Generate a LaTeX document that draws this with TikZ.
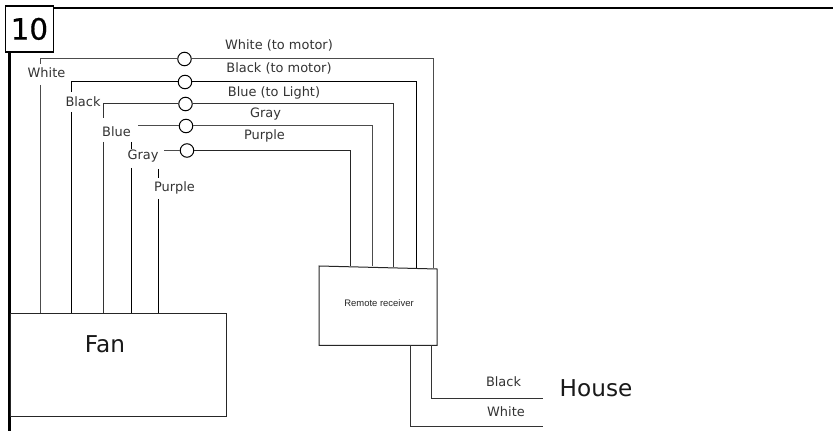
\documentclass[tikz,border=0pt]{standalone}
\usepackage{fontspec}
\setmainfont{DejaVu Sans}
\newfontfamily\arialf{Liberation Sans}
\begin{document}
\begin{tikzpicture}[x=0.75pt,y=-0.75pt,
  frameline/.style={line width=1.6pt,black},
  wire/.style={line width=0.75pt,draw=#1},
  wire/.default=black,
  sw/.style={circle,draw=black,fill=white,line width=0.75pt,minimum size=13.5*0.75pt,inner sep=0pt},
  lab/.style={font=\fontsize{9.7pt}{11pt}\selectfont,text=black!80,inner sep=0pt},
  big/.style={font=\fontsize{17.4pt}{20pt}\selectfont,text=black!90,inner sep=0pt},
  box/.style={draw=black!85,line width=0.75pt}]
\useasboundingbox (0,0) rectangle (833,431);
\fill[white] (0,0) rectangle (833,431);
% frame
\coordinate (ftr) at (833,8);
\coordinate (fbl) at (9.5,431);
\node[draw=black,line width=1.4pt,fill=white,minimum width=48*0.75pt,minimum height=46*0.75pt,inner sep=0pt,anchor=north west,font=\fontsize{22pt}{24pt}\selectfont] (num) at (4.5,5) {\addfontfeature{FakeBold=0.6}10};
\draw[frameline] (num.north east |- ftr) -- (ftr);
\draw[frameline] (num.south west -| fbl) -- (fbl);
% boxes
\node[box,minimum width=216*0.75pt,minimum height=103.5*0.75pt,inner sep=0pt,anchor=north west] (fan) at (10,313) {};
\node[big] (fanl) at (105,344) {Fan};
\coordinate (r1) at (319,266);\coordinate (r2) at (437,269);\coordinate (r3) at (437,345.5);\coordinate (r4) at (319,345.5);
\draw[box] (r1) -- (r2) -- (r3) -- (r4) -- cycle;
\node[inner sep=0pt,font=\arialf\fontsize{7.1pt}{8pt}\selectfont,text=black!85] (rl) at (379,303) {Remote receiver};
% switches
\node[sw] (s1) at (184.5,59) {};
\node[sw] (s2) at (185,82) {};
\node[sw] (s3) at (185.5,104) {};
\node[sw] (s4) at (186,126) {};
\node[sw] (s5) at (187,150.5) {};
% white
\coordinate (w1) at (40.5,64);\coordinate (w1b) at (40.5,85);\coordinate (w1f) at (40.5,313);
\coordinate (w1r) at (433,59);\coordinate (w1e) at (433,268);
\draw[wire=black!70] (w1) -- (w1 |- s1) -- (s1);
\draw[wire=black!70] (w1b) -- (w1f);
\draw[wire=black!70] (s1) -- (w1r) -- (w1e);
% black
\coordinate (b1) at (71.5,92);\coordinate (b1b) at (71.5,112);\coordinate (b1f) at (71.5,313);
\coordinate (b1r) at (416.5,82);\coordinate (b1e) at (416.5,268);
\draw[wire] (b1) -- (b1 |- s2) -- (s2);
\draw[wire] (b1b) -- (b1f);
\draw[wire] (s2) -- (b1r) -- (b1e);
% blue
\coordinate (u1) at (103.5,118);\coordinate (u1b) at (103.5,142);\coordinate (u1f) at (103.5,313);
\coordinate (u1r) at (393.5,104);\coordinate (u1e) at (393.5,267);
\draw[wire=black!80] (u1) -- (u1 |- s3) -- (s3);
\draw[wire=black!80] (u1b) -- (u1f);
\draw[wire=black!80] (s3) -- (u1r) -- (u1e);
% gray
\coordinate (g0) at (138,126);\coordinate (g1) at (131.5,142);\coordinate (g1a) at (131.5,149);
\coordinate (g1b) at (131.5,168);\coordinate (g1f) at (131.5,313);
\coordinate (g1r) at (372.5,126);\coordinate (g1e) at (372.5,266);
\draw[wire=black!70] (g0) -- (s4);
\draw[wire] (g1) -- (g1a);
\draw[wire] (g1b) -- (g1f);
\draw[wire=black!70] (s4) -- (g1r) -- (g1e);
% purple
\coordinate (p0) at (164,150.5);\coordinate (p1) at (158,169);\coordinate (p1a) at (158,178);
\coordinate (p1b) at (158,199);\coordinate (p1f) at (158,313);
\coordinate (p1r) at (350.5,150.5);\coordinate (p1e) at (350.5,266);
\draw[wire=black!70] (p0) -- (s5);
\draw[wire] (p1) -- (p1a);
\draw[wire] (p1b) -- (p1f);
\draw[wire=black!85] (s5) -- (p1r) -- (p1e);
% house wires
\coordinate (h1) at (431,345.5);\coordinate (h1c) at (431,399);\coordinate (h1e) at (543,399);
\coordinate (h2) at (410,345.5);\coordinate (h2c) at (410,426);\coordinate (h2e) at (543,426);
\draw[wire=black!80] (h1) -- (h1c) -- (h1e);
\draw[wire=black!80] (h2) -- (h2c) -- (h2e);
% labels
\node[lab] (l1) at (279,45) {White (to motor)};
\node[lab] (l2) at (279,68.5) {Black (to motor)};
\node[lab] (l3) at (274,92.5) {Blue (to Light)};
\node[lab] (l4) at (265.5,114) {Gray};
\node[lab] (l5) at (264.5,135.5) {Purple};
\node[lab] (l6) at (46.5,72.5) {White};
\node[lab] (l7) at (83,101.5) {Black};
\node[lab] (l8) at (116.5,131.5) {Blue};
\node[lab] (l9) at (143,156.5) {Gray};
\node[lab] (l10) at (174.5,187.5) {Purple};
\node[lab] (l11) at (503.5,382) {Black};
\node[lab] (l12) at (506,412) {White};
\node[big] (house) at (596,388) {House};
\end{tikzpicture}
\end{document}
